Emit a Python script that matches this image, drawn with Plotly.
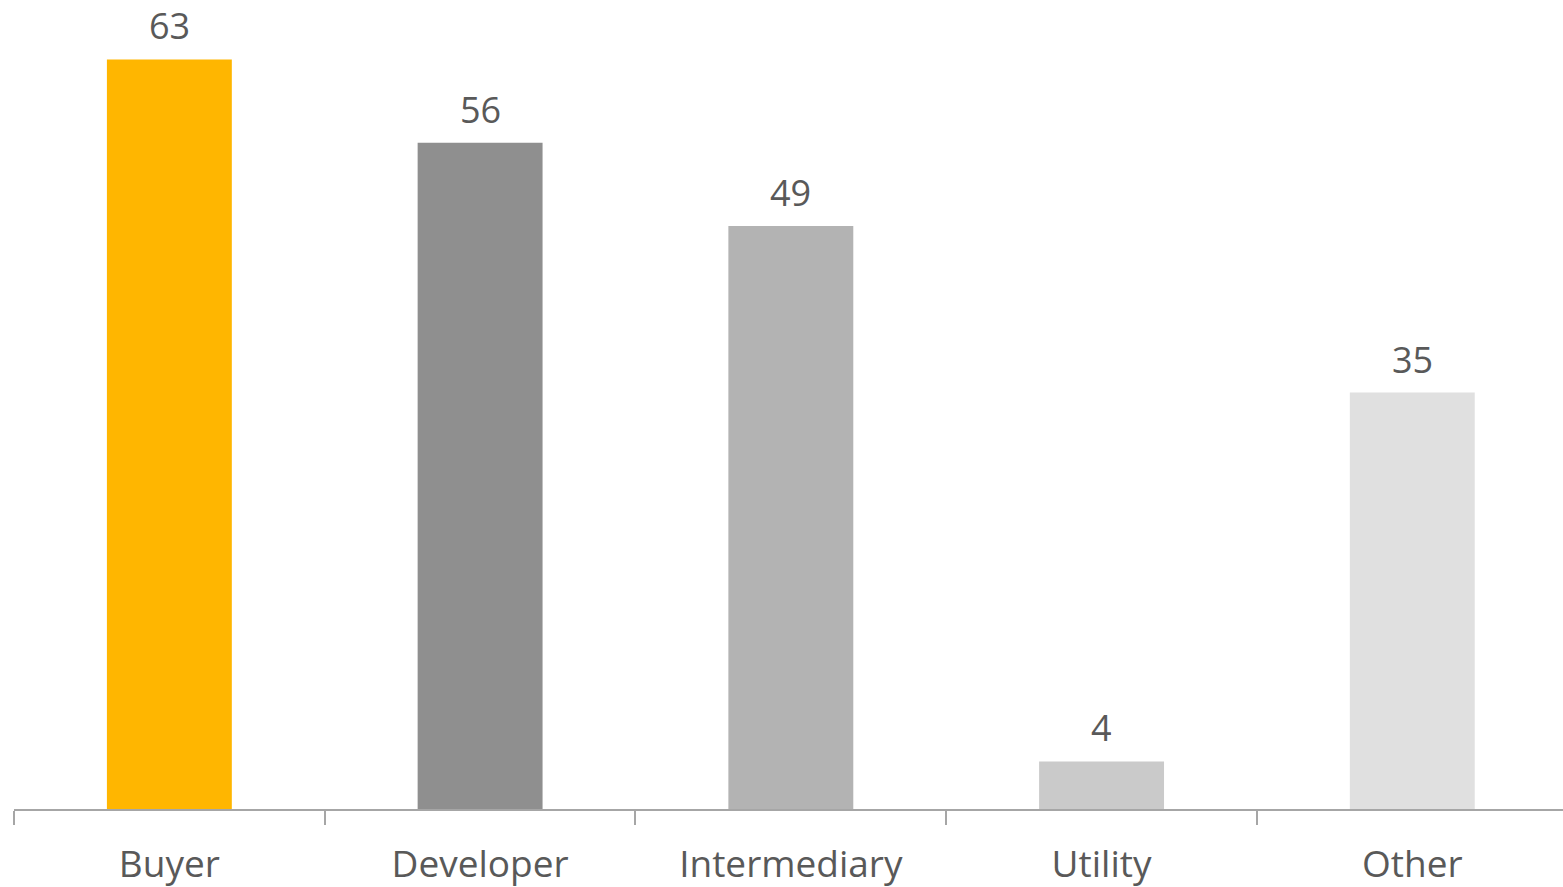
import plotly.graph_objects as go

categories = ["Buyer", "Developer", "Intermediary", "Utility", "Other"]
values = [63, 56, 49, 4, 35]
bar_colors = ["#FFB600", "#8F8F8F", "#B3B3B3", "#CACACA", "#E0E0E0"]

font_family = "Open Sans, Lato, sans-serif"
text_color = "#595959"

fig = go.Figure(
    go.Bar(
        x=categories,
        y=values,
        marker=dict(color=bar_colors, line=dict(width=0)),
        width=0.402,
    )
)

# value labels floating above each bar
for cat, val in zip(categories, values):
    fig.add_annotation(
        x=cat,
        y=val,
        text=str(val),
        showarrow=False,
        yanchor="middle",
        yshift=34,
        height=40,
        borderpad=0,
        font=dict(family=font_family, size=36, color=text_color),
    )

fig.update_layout(
    width=1563,
    height=887,
    margin=dict(l=14, r=0, t=0, b=78),
    paper_bgcolor="white",
    plot_bgcolor="white",
    showlegend=False,
)

fig.update_xaxes(
    range=[-0.5, 4.485],
    showline=True,
    linecolor="#A6A6A6",
    linewidth=2,
    ticks="outside",
    tickson="boundaries",
    ticklen=14,
    tickwidth=2,
    tickcolor="#A6A6A6",
    ticklabelstandoff=22,
    tickfont=dict(family=font_family, size=37, color=text_color),
    showgrid=False,
    zeroline=False,
)

fig.update_yaxes(
    range=[0, 68],
    visible=False,
    showgrid=False,
    zeroline=False,
)

fig.write_html("out.html")
